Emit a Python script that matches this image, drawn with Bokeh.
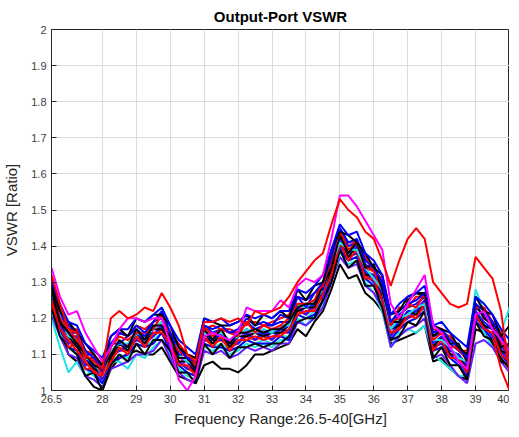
from bokeh.plotting import figure
from bokeh.models import FixedTicker, Range1d
from bokeh.embed import file_html
from bokeh.resources import INLINE

freq = [26.5, 26.75, 27.0, 27.25, 27.5, 27.75, 28.0, 28.25, 28.5, 28.75, 29.0, 29.25, 29.5, 29.75,
        30.0, 30.25, 30.5, 30.75, 31.0, 31.25, 31.5, 31.75, 32.0, 32.25, 32.5, 32.75, 33.0, 33.25,
        33.5, 33.75, 34.0, 34.25, 34.5, 34.75, 35.0, 35.25, 35.5, 35.75, 36.0, 36.25, 36.5, 36.75,
        37.0, 37.25, 37.5, 37.75, 38.0, 38.25, 38.5, 38.75, 39.0, 39.25, 39.5, 39.75, 40.0]

s01 = [1.29,1.22,1.19,1.16,1.13,1.10,1.07,1.15,1.17,1.15,1.20,1.19,1.21,1.21,1.18,1.12,1.10,1.09,1.20,1.19,1.18,1.18,1.19,1.21,1.18,1.21,1.20,1.22,1.20,1.28,1.25,1.29,1.30,1.39,1.44,1.43,1.41,1.38,1.34,1.32,1.21,1.22,1.26,1.27,1.27,1.18,1.17,1.16,1.12,1.10,1.26,1.22,1.21,1.15,1.18]
s02 = [1.28,1.20,1.17,1.14,1.09,1.09,1.04,1.12,1.15,1.14,1.16,1.16,1.17,1.21,1.14,1.11,1.09,1.07,1.18,1.15,1.17,1.16,1.15,1.19,1.16,1.18,1.17,1.18,1.20,1.24,1.24,1.25,1.30,1.35,1.44,1.39,1.41,1.34,1.33,1.28,1.19,1.20,1.24,1.23,1.27,1.14,1.16,1.12,1.12,1.08,1.24,1.20,1.19,1.13,1.10]
s03 = [1.30,1.22,1.18,1.16,1.11,1.09,1.06,1.13,1.16,1.15,1.18,1.16,1.19,1.22,1.16,1.12,1.09,1.08,1.18,1.17,1.18,1.16,1.17,1.20,1.18,1.19,1.18,1.21,1.20,1.26,1.25,1.27,1.30,1.37,1.45,1.41,1.42,1.36,1.34,1.30,1.19,1.22,1.24,1.25,1.27,1.16,1.17,1.14,1.12,1.09,1.24,1.22,1.19,1.15,1.11]
s04 = [1.25,1.19,1.13,1.14,1.07,1.08,1.03,1.10,1.11,1.13,1.14,1.15,1.15,1.19,1.12,1.10,1.06,1.07,1.14,1.15,1.14,1.14,1.13,1.17,1.14,1.17,1.14,1.18,1.16,1.24,1.21,1.25,1.26,1.35,1.40,1.39,1.38,1.34,1.30,1.28,1.15,1.20,1.20,1.23,1.25,1.12,1.15,1.10,1.10,1.06,1.22,1.18,1.17,1.11,1.09]
s05 = [1.22,1.16,1.12,1.10,1.06,1.04,1.02,1.08,1.10,1.09,1.13,1.12,1.14,1.16,1.11,1.07,1.05,1.04,1.13,1.12,1.13,1.11,1.12,1.14,1.13,1.14,1.13,1.15,1.15,1.21,1.20,1.22,1.25,1.31,1.38,1.36,1.37,1.31,1.29,1.25,1.14,1.17,1.19,1.20,1.22,1.11,1.12,1.09,1.07,1.05,1.19,1.17,1.14,1.10,1.07]
s06 = [1.27,1.20,1.15,1.15,1.09,1.07,1.05,1.11,1.13,1.12,1.16,1.14,1.17,1.19,1.14,1.10,1.08,1.06,1.16,1.14,1.16,1.13,1.15,1.17,1.16,1.16,1.16,1.17,1.18,1.24,1.23,1.24,1.28,1.35,1.42,1.38,1.40,1.33,1.32,1.27,1.17,1.19,1.22,1.22,1.25,1.13,1.15,1.11,1.10,1.07,1.22,1.19,1.17,1.12,1.10]
s07 = [1.23,1.15,1.12,1.10,1.04,1.05,1.00,1.07,1.10,1.08,1.13,1.10,1.14,1.14,1.11,1.05,1.05,1.02,1.13,1.10,1.13,1.09,1.12,1.12,1.13,1.12,1.13,1.13,1.15,1.19,1.20,1.20,1.25,1.30,1.39,1.34,1.36,1.29,1.29,1.23,1.14,1.15,1.19,1.18,1.22,1.09,1.12,1.07,1.07,1.03,1.19,1.15,1.14,1.08,1.07]
s08 = [1.24,1.18,1.12,1.13,1.06,1.06,1.03,1.09,1.11,1.11,1.14,1.13,1.15,1.17,1.12,1.08,1.06,1.05,1.14,1.13,1.14,1.12,1.13,1.15,1.14,1.15,1.14,1.16,1.16,1.22,1.21,1.23,1.26,1.33,1.40,1.37,1.38,1.32,1.30,1.26,1.15,1.18,1.20,1.21,1.23,1.12,1.13,1.10,1.08,1.06,1.20,1.18,1.15,1.06,1.00]
s09 = [1.31,1.24,1.19,1.18,1.13,1.11,1.09,1.15,1.17,1.17,1.20,1.19,1.21,1.23,1.18,1.14,1.12,1.10,1.20,1.19,1.20,1.18,1.19,1.21,1.20,1.21,1.20,1.22,1.22,1.28,1.27,1.29,1.32,1.39,1.46,1.43,1.44,1.38,1.36,1.32,1.21,1.24,1.26,1.27,1.29,1.18,1.19,1.16,1.14,1.12,1.26,1.24,1.21,1.17,1.14]
s10 = [1.21,1.15,1.10,1.09,1.04,1.03,1.01,1.06,1.07,1.08,1.10,1.10,1.11,1.14,1.09,1.05,1.03,1.02,1.11,1.10,1.11,1.09,1.10,1.12,1.11,1.12,1.11,1.13,1.13,1.19,1.18,1.20,1.23,1.30,1.37,1.34,1.35,1.29,1.27,1.23,1.12,1.15,1.17,1.18,1.20,1.09,1.10,1.07,1.04,1.02,1.13,1.14,1.12,1.08,1.05]
s11 = [1.29,1.23,1.17,1.17,1.11,1.10,1.06,1.12,1.16,1.15,1.18,1.17,1.19,1.21,1.16,1.13,1.10,1.09,1.17,1.18,1.17,1.17,1.16,1.19,1.19,1.18,1.19,1.20,1.21,1.26,1.25,1.27,1.29,1.37,1.44,1.41,1.41,1.37,1.33,1.31,1.18,1.23,1.23,1.26,1.26,1.17,1.16,1.15,1.11,1.11,1.23,1.23,1.19,1.16,1.11]
s12 = [1.26,1.19,1.15,1.12,1.09,1.06,1.05,1.09,1.13,1.11,1.16,1.13,1.17,1.17,1.14,1.08,1.08,1.05,1.16,1.13,1.16,1.12,1.15,1.15,1.16,1.15,1.16,1.16,1.18,1.22,1.23,1.23,1.28,1.33,1.42,1.37,1.40,1.32,1.32,1.26,1.17,1.18,1.22,1.21,1.25,1.12,1.15,1.10,1.10,1.06,1.22,1.18,1.17,1.11,1.10]
s13 = [1.24,1.17,1.12,1.11,1.06,1.05,1.02,1.08,1.09,1.10,1.13,1.12,1.13,1.16,1.11,1.07,1.05,1.04,1.13,1.12,1.12,1.11,1.12,1.14,1.13,1.13,1.13,1.15,1.14,1.21,1.20,1.21,1.25,1.32,1.39,1.36,1.37,1.31,1.29,1.25,1.14,1.17,1.19,1.20,1.22,1.11,1.12,1.09,1.07,1.04,1.19,1.17,1.14,1.10,1.07]
s14 = [1.27,1.21,1.15,1.14,1.09,1.08,1.04,1.11,1.13,1.13,1.16,1.15,1.17,1.19,1.14,1.10,1.08,1.07,1.16,1.15,1.16,1.14,1.15,1.17,1.16,1.17,1.16,1.18,1.18,1.24,1.23,1.25,1.28,1.35,1.41,1.39,1.39,1.34,1.31,1.28,1.17,1.20,1.21,1.23,1.24,1.14,1.14,1.12,1.09,1.08,1.28,1.22,1.18,1.16,1.23]
s15 = [1.24,1.17,1.10,1.08,1.04,1.01,1.00,1.06,1.09,1.10,1.11,1.10,1.10,1.12,1.08,1.04,1.03,1.02,1.07,1.08,1.06,1.06,1.05,1.07,1.10,1.10,1.11,1.12,1.13,1.17,1.15,1.19,1.22,1.28,1.35,1.31,1.32,1.27,1.25,1.22,1.13,1.14,1.15,1.16,1.18,1.08,1.09,1.06,1.04,1.03,1.17,1.16,1.13,1.09,1.06]
s16 = [1.20,1.12,1.05,1.08,1.04,1.06,1.03,1.08,1.08,1.06,1.10,1.09,1.12,1.14,1.10,1.06,1.04,1.03,1.12,1.11,1.12,1.10,1.11,1.13,1.12,1.13,1.12,1.14,1.14,1.20,1.18,1.21,1.24,1.30,1.37,1.35,1.36,1.30,1.27,1.22,1.12,1.16,1.17,1.16,1.18,1.10,1.08,1.06,1.04,1.04,1.20,1.16,1.12,1.10,1.12]
s17 = [1.34,1.26,1.21,1.22,1.16,1.12,1.08,1.12,1.17,1.20,1.20,1.19,1.20,1.20,1.13,1.03,1.00,1.04,1.15,1.16,1.15,1.14,1.16,1.23,1.22,1.22,1.22,1.25,1.23,1.29,1.31,1.30,1.32,1.42,1.54,1.54,1.51,1.47,1.43,1.39,1.24,1.20,1.24,1.28,1.32,1.18,1.16,1.12,1.08,1.06,1.21,1.22,1.17,1.14,1.11]
s18 = [1.32,1.24,1.17,1.16,1.10,1.08,1.06,1.20,1.22,1.20,1.21,1.23,1.22,1.27,1.23,1.18,1.10,1.08,1.19,1.19,1.20,1.19,1.20,1.18,1.22,1.21,1.22,1.23,1.26,1.30,1.33,1.36,1.38,1.46,1.53,1.50,1.48,1.44,1.42,1.36,1.29,1.36,1.42,1.45,1.42,1.30,1.27,1.24,1.23,1.24,1.37,1.34,1.31,1.22,1.05]
s19 = [1.27,1.22,1.16,1.16,1.10,1.10,1.05,1.13,1.13,1.15,1.17,1.15,1.19,1.20,1.16,1.10,1.10,1.07,1.18,1.16,1.17,1.16,1.16,1.19,1.17,1.18,1.18,1.19,1.19,1.26,1.23,1.27,1.28,1.36,1.44,1.40,1.41,1.35,1.33,1.29,1.18,1.21,1.23,1.24,1.26,1.15,1.16,1.13,1.11,1.09,1.23,1.21,1.18,1.14,1.11]
s20 = [1.25,1.17,1.14,1.11,1.08,1.05,1.04,1.08,1.12,1.10,1.15,1.12,1.16,1.16,1.13,1.07,1.07,1.04,1.15,1.12,1.15,1.11,1.14,1.14,1.15,1.14,1.15,1.15,1.17,1.21,1.22,1.22,1.27,1.32,1.41,1.36,1.39,1.31,1.31,1.25,1.16,1.17,1.21,1.20,1.24,1.11,1.14,1.09,1.09,1.05,1.21,1.17,1.16,1.10,1.08]
s21 = [1.28,1.19,1.16,1.13,1.10,1.07,1.06,1.10,1.14,1.12,1.17,1.14,1.18,1.18,1.15,1.09,1.09,1.06,1.17,1.14,1.17,1.13,1.16,1.16,1.17,1.16,1.17,1.17,1.19,1.23,1.24,1.24,1.29,1.34,1.43,1.38,1.41,1.34,1.35,1.28,1.19,1.19,1.25,1.27,1.26,1.15,1.17,1.13,1.13,1.08,1.24,1.20,1.18,1.12,1.13]
s22 = [1.26,1.18,1.13,1.13,1.07,1.07,1.03,1.10,1.11,1.12,1.14,1.13,1.15,1.18,1.12,1.08,1.06,1.06,1.14,1.14,1.14,1.13,1.13,1.16,1.14,1.16,1.14,1.17,1.16,1.23,1.21,1.24,1.26,1.33,1.40,1.37,1.38,1.33,1.30,1.27,1.15,1.19,1.20,1.22,1.23,1.12,1.13,1.10,1.08,1.05,1.20,1.18,1.15,1.11,1.08]

series = [s15, s16, s10, s05, s13, s07, s08, s04, s22, s12, s20, s06, s14, s19, s02, s21, s11, s03,
          s01, s09, s17, s18]
colors = ["#000000", "#1ee5e5", "#6a1aff", "#1ee5e5", "#0000ff", "#000000", "#ff0000", "#ff00ff",
          "#1a1aff", "#000000", "#ff0000", "#1a1aff", "#1ee5e5", "#0000ff", "#ff0000", "#000000",
          "#ff0000", "#0000ff", "#000000", "#0000ff", "#ff00ff", "#ff0000"]

x_ticks = [26.5, 28, 29, 30, 31, 32, 33, 34, 35, 36, 37, 38, 39, 40]
x_tick_labels = ["26.5", "28", "29", "30", "31", "32", "33", "34", "35", "36", "37", "38", "39", "40"]
y_ticks = [1.0, 1.1, 1.2, 1.3, 1.4, 1.5, 1.6, 1.7, 1.8, 1.9, 2.0]
y_tick_labels = ["1", "1.1", "1.2", "1.3", "1.4", "1.5", "1.6", "1.7", "1.8", "1.9", "2"]

FONT = "Liberation Sans"
AX = "#262626"

p = figure(width=509, height=429, output_backend="svg", toolbar_location=None,
           x_range=Range1d(26.5, 40), y_range=Range1d(1, 2),
           min_border_left=44, min_border_right=0, min_border_top=23, min_border_bottom=0)

p.title.text = "Output-Port VSWR"
p.title.align = "center"
p.title.text_font = FONT
p.title.text_font_size = "15px"
p.title.text_font_style = "bold"
p.title.text_color = "#000000"
p.title.offset = 0

for ys, c in zip(series, colors):
    p.line(freq, ys, line_color=c, line_width=2)

p.xaxis.ticker = FixedTicker(ticks=x_ticks)
p.yaxis.ticker = FixedTicker(ticks=y_ticks)
p.xaxis.major_label_overrides = {float(t): l for t, l in zip(x_ticks, x_tick_labels)}
p.yaxis.major_label_overrides = {float(t): l for t, l in zip(y_ticks, y_tick_labels)}

for ax in (p.xaxis[0], p.yaxis[0]):
    ax.major_tick_in = 5
    ax.major_tick_out = 0
    ax.minor_tick_in = 0
    ax.minor_tick_out = 0
    ax.axis_line_color = AX
    ax.major_tick_line_color = AX
    ax.major_label_text_font = FONT
    ax.major_label_text_font_size = "11px"
    ax.major_label_text_color = "#404040"
    ax.axis_label_text_font = FONT
    ax.axis_label_text_font_size = "15px"
    ax.axis_label_text_font_style = "normal"
    ax.axis_label_text_color = AX

p.xaxis.axis_label = "Frequency Range:26.5-40[GHz]"
p.yaxis.axis_label = "VSWR [Ratio]"
p.xaxis.major_label_standoff = 4
p.yaxis.major_label_standoff = 5
p.xaxis.axis_label_standoff = 4
p.yaxis.axis_label_standoff = 8

p.xgrid.grid_line_color = "#dcdcdc"
p.ygrid.grid_line_color = "#dcdcdc"
p.outline_line_color = AX
p.background_fill_color = "white"
p.border_fill_color = "white"

open("out.html", "w").write(file_html(p, INLINE))
